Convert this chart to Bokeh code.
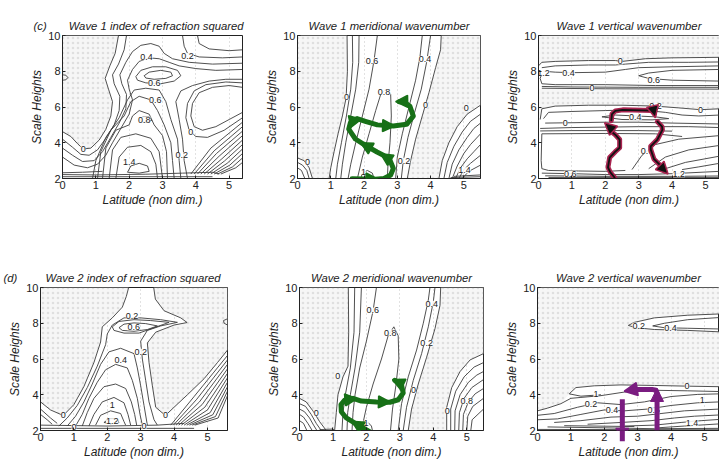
from bokeh.plotting import figure
from bokeh.layouts import row, column
from bokeh.models import Arrow, NormalHead, Range1d
from bokeh.core.properties import value
from bokeh.embed import file_html
from bokeh.resources import INLINE

FONT = "Liberation Sans"
INK = "#3c3c3c"
NB = "\u00a0"

x_ticks = [0, 1, 2, 3, 4, 5]
y_ticks = [2, 4, 6, 8, 10]

titles = ["Wave 1 index of refraction squared", "Wave 1 meridional wavenumber",
          "Wave 1 vertical wavenumber", "Wave 2 index of refraction squared",
          "Wave 2 meridional wavenumber", "Wave 2 vertical wavenumber"]
panel_tags = ["(c)", "(d)"]

# ---------------- contour lines (latitude, scale height) ----------------
p1_lines = [
    [(0,4.62),(0.25,4.35),(0.45,3.95),(0.62,3.65),(0.85,3.7),(1.1,4.15),(1.3,4.75),(1.45,5.5),(1.5,6.3),(1.38,7.0),(1.28,7.6),(1.42,8.3),(1.58,9.0),(1.68,10)],
    [(0,4.2),(0.3,3.75),(0.55,3.35),(0.8,3.3),(1.05,3.6),(1.3,4.25),(1.55,5.0),(1.7,5.8),(1.72,6.6),(1.55,7.3),(1.5,7.8),(1.68,8.4),(1.85,9.2),(1.92,10)],
    [(0,3.7),(0.3,3.3),(0.6,2.95),(0.95,3.0),(1.2,3.5),(1.45,4.3),(1.7,5.1),(1.9,5.9),(1.92,6.7),(1.78,7.3),(1.72,7.8),(1.9,8.5),(2.1,9.1),(2.35,9.45),(2.65,9.55),(2.9,9.4),(3.05,9.0),(3.3,8.7),(3.8,8.5),(4.5,8.4),(5.4,8.45)],
    [(0,3.2),(0.35,2.75),(0.75,2.6),(1.05,2.8),(1.3,3.3),(1.5,4.0),(1.75,4.8),(2.0,5.6),(2.1,6.4),(2.0,7.0),(1.95,7.5),(2.1,8.1),(2.3,8.55),(2.6,8.75),(2.9,8.7),(3.2,8.5),(3.5,8.3),(4.0,8.15),(4.6,8.05),(5.4,8.1)],
    [(2.2,7.7),(2.35,8.05),(2.7,8.25),(3.1,8.25),(3.45,8.05),(3.55,7.75),(3.35,7.45),(2.95,7.3),(2.5,7.35),(2.25,7.5),(2.2,7.7)],
    [(2.45,7.75),(2.6,7.95),(2.95,8.05),(3.25,7.95),(3.3,7.75),(3.1,7.6),(2.75,7.55),(2.5,7.62),(2.45,7.75)],
    [(1.95,2.35),(2.05,2.7),(2.3,2.85),(2.55,2.7),(2.6,2.4),(2.3,2.3),(1.95,2.35)],
    [(1.6,2.0),(1.7,3.2),(1.95,3.75),(2.35,3.85),(2.65,3.5),(2.8,2.8),(2.85,2.0)],
    [(1.4,2.0),(1.5,3.6),(1.75,4.3),(2.2,4.5),(2.65,4.25),(2.9,3.5),(3.0,2.0)],
    [(1.2,2.0),(1.3,3.7),(1.6,4.7),(2.0,5.0),(2.1,5.5),(2.3,5.8),(2.6,5.6),(2.75,5.0),(3.0,4.4),(3.12,3.5),(3.15,2.0)],
    [(2.3,5.25),(2.4,5.45),(2.6,5.45),(2.68,5.25),(2.45,5.15),(2.3,5.25)],
    [(1.05,2.0),(1.15,3.5),(1.45,4.7),(1.85,5.5),(2.05,6.3),(2.3,6.6),(2.65,6.4),(2.85,5.8),(3.05,5.0),(3.25,4.0),(3.3,3.0),(3.35,2.0)],
    [(0.9,2.0),(1.0,3.0),(1.3,4.3),(1.7,5.4),(1.95,6.4),(2.15,6.95),(2.5,7.05),(2.9,6.95),(3.1,6.3),(3.25,5.3),(3.45,4.2),(3.5,3.0),(3.55,2.0)],
    [(3.75,2.0),(3.65,3.0),(3.6,4.2),(3.5,5.3),(3.4,6.3),(3.55,6.9),(3.9,7.2),(4.4,7.45),(4.9,7.55),(5.4,7.55)],
    [(5.4,7.1),(5.0,7.2),(4.5,7.1),(4.1,6.8),(3.9,6.2),(3.85,5.5),(3.95,4.9),(4.2,4.7),(4.6,4.9),(5.0,5.3),(5.4,5.7)],
    [(5.4,7.35),(4.9,7.4),(4.3,7.25),(3.95,6.9),(3.75,6.2),(3.7,5.4),(3.8,4.7),(4.0,4.35),(4.35,4.3),(4.85,4.7),(5.4,5.4)],
    [(3.6,10),(3.65,9.4),(3.75,9.0),(4.1,8.8),(4.8,8.75),(5.4,8.8)],
    [(4.05,10),(4.1,9.55),(4.4,9.25),(5.0,9.15),(5.4,9.2)],
    [(3.85,2.25),(4.45,3.7),(5.4,5.15)],
    [(3.95,2.25),(4.55,3.55),(5.4,4.9)],
    [(4.05,2.25),(4.62,3.4),(5.4,4.65)],
    [(4.15,2.25),(4.7,3.25),(5.4,4.4)],
    [(4.25,2.25),(4.78,3.1),(5.4,4.15)],
    [(4.35,2.25),(4.86,2.98),(5.4,3.9)],
    [(4.45,2.25),(4.94,2.85),(5.4,3.65)],
    [(4.55,2.25),(5.02,2.75),(5.4,3.4)],
    [(4.65,2.25),(5.1,2.65),(5.4,3.15)],
    [(4.75,2.25),(5.2,2.6),(5.4,2.9)],
    [(0,2.1),(4.5,2.1)],
    [(0,2.22),(1.0,2.2),(2.5,2.24),(3.6,2.3),(4.5,2.35),(4.7,2.25)],
    [(0,2.32),(0.6,2.35),(1.2,2.4)],
    [(0,7.5),(0.1,7.52),(0.16,7.65),(0.1,7.78),(0,7.8)],
]
p1_labels = [("0.4",2.52,8.78),("0.2",3.75,8.85),("0.6",2.75,7.32),("0.6",2.78,6.4),("0.8",2.45,5.3),
             ("0",0.62,3.65),("1.4",2.0,2.94),("0.2",3.58,3.3),("0",3.85,4.6)]

p2_lines = [
    [(1.49,10),(1.5,8),(1.46,6.5),(1.35,5.5),(1.22,4.5),(1.1,3.5),(1.0,2.6),(0.95,2.0)],
    [(1.65,10),(1.66,8.5),(1.6,7),(1.47,5.5),(1.32,4.0),(1.2,2.8),(1.15,2.0)],
    [(1.85,10),(1.84,8.5),(1.75,7),(1.6,5.5),(1.45,4.0),(1.35,2.8),(1.3,2.0)],
    [(2.4,10),(2.3,8.6),(2.15,7.0),(1.95,5.5),(1.75,4.0),(1.6,2.8),(1.52,2.0)],
    [(1.8,2.0),(1.95,3.2),(2.15,4.5),(2.35,5.8),(2.5,6.7),(2.65,7.0),(2.8,6.7),(2.82,5.5),(2.78,4.0),(2.72,2.8),(2.7,2.0)],
    [(1.9,2.0),(1.95,2.3),(2.1,2.45),(2.25,2.3),(2.3,2.0)],
    [(2.95,2.0),(3.0,3.2),(3.15,4.5),(3.35,6.0),(3.55,7.5),(3.68,8.8),(3.75,10)],
    [(3.12,2.0),(3.18,3.0),(3.32,4.3),(3.52,5.7),(3.72,7.0),(3.88,8.5),(4.0,10)],
    [(3.3,2.0),(3.4,3.0),(3.55,4.2),(3.75,5.5),(3.95,6.8),(4.15,8.2),(4.3,9.2),(4.32,10)],
    [(4.25,2.0),(4.35,3.0),(4.55,4.0),(4.8,4.9),(5.1,5.6),(5.5,6.1)],
    [(4.4,2.0),(4.5,2.9),(4.7,3.8),(4.95,4.6),(5.2,5.2),(5.5,5.6)],
    [(4.55,2.0),(4.65,2.8),(4.85,3.6),(5.1,4.3),(5.3,4.8),(5.5,5.1)],
    [(4.65,2.0),(4.8,2.7),(5.0,3.4),(5.2,3.9),(5.5,4.5)],
    [(4.75,2.0),(4.9,2.6),(5.1,3.1),(5.3,3.5),(5.5,3.9)],
    [(4.85,2.0),(5.0,2.5),(5.2,2.85),(5.5,3.3)],
    [(4.95,2.0),(5.15,2.4),(5.5,2.75)],
    [(4.6,2.05),(5.5,2.1)],
    [(4.7,2.12),(5.5,2.2)],
    [(0,3.15),(0.2,3.0),(0.35,2.6),(0.45,2.0)],
    [(0,2.9),(0.15,2.75),(0.28,2.45),(0.35,2.0)],
    [(0,2.6),(0.12,2.45),(0.22,2.0)],
]
p2_labels = [("0.6",2.24,8.6),("0.4",3.83,8.68),("0.8",2.6,6.85),("0",1.47,6.58),("0",3.85,6.12),
             ("0.2",3.2,3.0),("1",1.98,2.37),("0",5.07,5.94),("1.4",5.02,2.46),("0",0.3,2.9)]

p3_lines = [
    [(0,8.3),(0.1,8.5),(0.5,8.55),(1.5,8.6),(2.3,8.6),(2.5,8.55),(3.2,8.7),(4.0,8.75),(5.42,8.78)],
    [(0.1,8.2),(0.5,8.3),(1.5,8.35),(2.3,8.35),(2.6,8.4),(3.3,8.5),(4.5,8.5),(5.42,8.52)],
    [(0.15,8.0),(0.5,7.95),(1.0,7.92),(2.0,7.95),(2.6,8.1),(3.0,8.2),(4.0,8.25),(5.42,8.3)],
    [(5.42,8.1),(4.0,8.05),(3.3,7.9),(3.0,7.75),(3.3,7.6),(4.0,7.5),(5.42,7.45)],
    [(0.1,7.85),(0.05,7.6),(0.1,7.3),(0.5,7.25),(2,7.25),(3.5,7.2),(5.42,7.2)],
    [(0.1,7.15),(1,7.12),(3,7.1),(5.42,7.1)],
    [(0.1,7.05),(2,7.02),(5.42,7.0)],
    [(0.05,5.3),(0.1,5.9),(0.5,6.05),(1.5,6.1),(2.5,6.1),(3.5,6.05),(4.2,5.95),(4.85,5.85),(5.42,5.9)],
    [(0.15,5.35),(0.3,5.7),(1.0,5.75),(2.0,5.8),(3.0,5.85),(3.8,5.7),(4.3,5.55),(4.8,5.5),(5.42,5.55)],
    [(1.9,5.45),(2.3,5.55),(2.9,5.5),(3.5,5.45),(3.9,5.35),(3.4,5.28),(2.5,5.3),(1.9,5.45)],
    [(0.2,5.1),(1.0,5.12),(2.0,5.15),(3.0,5.15),(4.0,5.1),(5.42,5.05)],
    [(0.05,4.8),(1,4.85),(3,4.9),(4.5,4.9),(5.42,4.85)],
    [(4.3,4.35),(3.5,4.5),(2,4.52),(0.1,4.5),(0.08,3.0),(0.1,2.55),(0.3,2.45),(1.2,2.42),(2.0,2.4),(2.6,2.45)],
    [(4.0,4.65),(3,4.68),(1,4.68),(0.05,4.66)],
    [(2.8,2.5),(3.1,3.3),(3.5,3.9),(4.2,4.2),(5.42,4.4)],
    [(3.3,2.55),(3.8,3.2),(4.5,3.6),(5.42,3.85)],
    [(3.8,2.55),(4.4,2.9),(5.42,3.25)],
    [(4.3,2.5),(4.8,2.65),(5.42,2.85)],
    [(0.1,2.3),(1,2.27),(2,2.22),(3,2.22),(4,2.27),(5.42,2.4)],
    [(0.2,2.15),(2,2.12),(4,2.12),(5.42,2.14)],
    [(0.3,2.06),(5.42,2.06)],
]
p3_labels = [("0",2.45,8.55),("1.2",0.15,7.9),("0.4",0.9,7.93),("0.6",3.45,7.5),("0",1.6,7.05),
             ("0.2",3.5,6.05),("0",4.85,5.85),("0.4",2.9,5.42),("0",0.8,5.12),("0.6",3.25,3.55),
             ("0.6",0.95,2.27),("1.2",4.2,2.24)]

p4_lines = [
    [(0,3.6),(0.3,3.15),(0.68,2.84),(1.0,3.45),(1.3,4.46),(1.6,5.8),(1.8,6.95),(1.85,7.8),(2.15,8.3),(2.45,8.9),(2.57,9.5),(2.64,10)],
    [(3.39,10),(3.44,9.35),(3.7,8.7),(4.2,8.3),(4.39,8.04),(4.0,7.9),(3.45,7.5),(3.2,6.9),(3.25,5.8),(3.35,4.5),(3.45,3.3),(3.74,2.84),(4.0,3.3),(4.4,4.0),(4.9,4.9),(5.3,5.8),(5.6,6.5)],
    [(0.55,2.25),(0.8,2.7),(1.1,3.4),(1.4,4.4),(1.7,5.6),(1.95,6.8),(2.0,7.4),(2.15,7.9),(2.5,8.3),(3.0,8.3),(3.6,8.2),(4.1,8.05),(3.6,7.85),(3.2,7.6),(3.0,7.0),(3.05,6.0),(3.15,4.8),(3.25,3.6),(3.4,2.6),(3.5,2.3)],
    [(2.15,7.8),(2.35,8.1),(2.8,8.2),(3.3,8.15),(3.85,8.05),(3.4,7.75),(2.95,7.45),(2.5,7.45),(2.2,7.6),(2.15,7.8)],
    [(2.35,7.75),(2.5,7.95),(2.8,8.02),(3.15,7.98),(3.5,7.85),(3.2,7.65),(2.8,7.55),(2.45,7.6),(2.35,7.75)],
    [(0.8,2.25),(1.05,2.8),(1.3,3.6),(1.55,4.6),(1.8,5.7),(2.05,6.4),(2.4,6.6),(2.8,6.3),(2.9,5.5),(3.0,4.5),(3.1,3.4),(3.2,2.3)],
    [(1.05,2.25),(1.25,2.9),(1.45,3.8),(1.7,4.7),(1.95,5.4),(2.25,5.7),(2.6,5.5),(2.75,4.8),(2.9,3.8),(2.98,2.9),(3.05,2.3)],
    [(1.25,2.25),(1.4,3.0),(1.6,3.8),(1.9,4.45),(2.25,4.6),(2.55,4.35),(2.72,3.6),(2.82,2.9),(2.88,2.3)],
    [(1.45,2.25),(1.6,2.9),(1.85,3.6),(2.2,3.85),(2.5,3.55),(2.62,2.9),(2.7,2.3)],
    [(1.65,2.3),(1.8,2.85),(2.1,3.1),(2.4,2.95),(2.5,2.5),(2.55,2.3)],
    [(1.9,2.45),(2.05,2.65),(2.3,2.65),(2.35,2.45),(2.1,2.38),(1.9,2.45)],
    [(0,3.2),(0.3,2.7),(0.5,2.4)],
    [(0,2.9),(0.2,2.6),(0.35,2.35)],
    [(0,2.12),(4.6,2.12)],
    [(0,2.3),(2,2.25),(3.5,2.3),(4.3,2.4)],
    [(3.9,2.3),(4.6,3.9),(5.6,6.2)],
    [(3.98,2.3),(4.68,3.75),(5.6,5.95)],
    [(4.06,2.3),(4.76,3.6),(5.6,5.7)],
    [(4.14,2.3),(4.84,3.45),(5.6,5.45)],
    [(4.22,2.3),(4.92,3.3),(5.6,5.2)],
    [(4.3,2.3),(5.0,3.15),(5.6,4.95)],
    [(4.38,2.3),(5.08,3.0),(5.6,4.7)],
    [(4.46,2.3),(5.16,2.88),(5.6,4.45)],
    [(4.54,2.3),(5.24,2.78),(5.6,4.2)],
    [(4.62,2.3),(5.32,2.7),(5.6,3.95)],
    [(5.6,7.9),(5.5,8.0),(5.48,8.15),(5.6,8.25)],
]
p4_labels = [("0.2",2.74,8.42),("0.6",2.79,7.78),("0.2",3.0,6.4),("0.4",2.4,5.95),("1",2.15,3.4),
             ("1.2",2.15,2.52),("0",0.68,2.84),("0",3.74,2.84),("0",1.0,2.2),("0",3.1,2.25)]

p5_lines = [
    [(1.46,10),(1.47,7.5),(1.45,5.6),(1.3,5.0),(1.15,4.0),(1.1,3.0),(1.05,2.0)],
    [(1.65,10),(1.63,7.5),(1.52,5.5),(1.37,4.0),(1.3,3.0),(1.27,2.0)],
    [(1.85,10),(1.8,7.5),(1.66,5.5),(1.52,4.0),(1.44,3.0),(1.42,2.0)],
    [(2.3,10),(2.2,8.7),(2.0,7.0),(1.8,5.5),(1.66,4.0),(1.6,3.0),(1.57,2.0)],
    [(1.85,2.0),(2.0,3.3),(2.2,4.6),(2.45,6.0),(2.65,7.3),(2.82,7.8),(2.95,7.3),(2.97,6.0),(2.88,4.5),(2.78,3.2),(2.72,2.0)],
    [(1.9,2.0),(1.95,2.3),(2.05,2.45),(2.15,2.25),(2.18,2.0)],
    [(2.95,2.0),(3.05,3.5),(3.25,5.0),(3.5,6.5),(3.7,8.0),(3.85,9.3),(3.9,10)],
    [(3.1,2.0),(3.2,3.3),(3.4,4.8),(3.65,6.3),(3.85,7.8),(4.0,9.2),(4.05,10)],
    [(3.25,2.0),(3.35,3.2),(3.55,4.6),(3.8,6.1),(4.05,7.7),(4.2,9.0),(4.22,10)],
    [(4.4,2.0),(4.4,3.3),(4.55,4.4),(4.8,5.3),(5.1,5.95),(5.5,6.3)],
    [(4.52,2.0),(4.52,3.2),(4.67,4.2),(4.92,5.0),(5.22,5.55),(5.5,5.8)],
    [(4.64,2.0),(4.65,3.1),(4.8,4.0),(5.05,4.7),(5.3,5.1),(5.5,5.3)],
    [(4.76,2.0),(4.78,3.0),(4.92,3.8),(5.15,4.4),(5.5,4.85)],
    [(4.88,2.0),(4.9,2.9),(5.05,3.6),(5.25,4.05),(5.5,4.35)],
    [(5.0,2.0),(5.03,2.8),(5.18,3.35),(5.5,3.8)],
    [(5.12,2.0),(5.16,2.6),(5.5,3.2)],
    [(0,3.8),(0.2,3.6),(0.4,3.1),(0.6,2.5),(0.8,2.0)],
    [(0,3.5),(0.18,3.35),(0.35,2.9),(0.5,2.4),(0.65,2.0)],
    [(0,3.2),(0.15,3.05),(0.3,2.7),(0.42,2.3),(0.52,2.0)],
    [(0,2.9),(0.12,2.75),(0.25,2.4),(0.38,2.0)],
    [(0,2.55),(0.12,2.4),(0.22,2.0)],
    [(0.6,2.05),(1.0,2.08),(1.05,2.0)],
]
p5_labels = [("0.6",2.19,8.72),("0.8",2.71,7.48),("0.4",3.95,9.09),("0.2",3.8,6.9),("0",1.14,5.07),
             ("0",3.41,4.25),("1",1.99,2.42),("0",0.5,2.97),("0",4.42,3.1),("0.8",5.0,3.64)]

p6_lines = [
    [(5.45,8.52),(4.5,8.45),(3.5,8.3),(2.9,8.05),(2.72,7.88),(2.95,7.75),(3.5,7.65),(4.5,7.6),(5.45,7.52)],
    [(5.45,8.32),(4.5,8.2),(3.8,8.0),(3.45,7.85),(3.8,7.75),(4.5,7.72),(5.45,7.68)],
    [(5.45,4.45),(4.5,4.48),(3.5,4.52),(2.5,4.55),(1.7,4.5),(1.15,4.4),(0.95,4.05),(1.3,3.92),(1.9,4.0)],
    [(0,3.1),(0.3,3.25),(0.7,3.5),(1.0,3.8),(1.3,3.85),(1.9,3.95),(2.6,4.15),(3.5,4.25),(4.5,4.22),(5.45,4.18)],
    [(0,2.85),(0.5,2.95),(1.2,3.3),(1.8,3.55),(2.5,3.45),(3.2,3.6),(4.0,3.9),(4.8,4.02),(5.45,4.05)],
    [(0,2.6),(0.6,2.65),(1.3,2.9),(2.0,3.15),(2.6,3.1),(3.3,3.2),(4.0,3.4),(4.8,3.55),(5.45,3.6)],
    [(0.5,2.45),(1.3,2.55),(2.2,2.75),(3.0,2.8),(3.7,2.95),(4.4,3.1),(5.45,3.2)],
    [(1.5,2.35),(2.5,2.45),(3.4,2.55),(4.1,2.7),(4.7,2.8),(5.45,2.87)],
    [(2.6,2.25),(3.5,2.3),(4.3,2.45),(4.9,2.55),(5.45,2.62)],
    [(3.6,2.15),(4.4,2.25),(5.45,2.37)],
    [(0.3,2.2),(2,2.15),(3.5,2.1),(5.45,2.12)],
    [(0,2.06),(5.45,2.04)],
    [(0.8,2.27),(2.9,2.22)],
]
p6_labels = [("0.2",3.03,7.86),("0.4",3.98,7.72),("0",4.48,4.48),("1",1.75,4.05),("0.2",1.6,3.5),
             ("0.4",2.23,3.15),("0.6",3.48,3.12),("1",4.93,3.7),("1.4",4.63,2.4)]

# evanescent (stippled) regions
p1_shade = [[(0,10),(1.68,10),(1.58,9.0),(1.42,8.3),(1.28,7.6),(1.38,7.0),(1.5,6.3),(1.45,5.5),(1.3,4.75),(1.1,4.15),(0.85,3.7),(0.62,3.65),(0.45,3.95),(0.25,4.35),(0,4.62)]]
p2_shade = [[(0,10),(1.49,10),(1.5,8),(1.46,6.5),(1.35,5.5),(1.22,4.5),(1.1,3.5),(1.0,2.6),(0.95,2.0),(0.45,2.0),(0.35,2.6),(0.2,3.0),(0,3.15)],
            [(4.32,10),(4.3,9.2),(4.15,8.2),(3.95,6.8),(3.75,5.5),(3.55,4.2),(3.4,3.0),(3.3,2.0),(4.25,2.0),(4.35,3.0),(4.55,4.0),(4.8,4.9),(5.1,5.6),(5.5,6.1),(5.5,10)]]
p3_shade = [[(0,10),(5.42,10),(5.42,8.78),(4.0,8.75),(3.2,8.7),(2.5,8.55),(0.5,8.55),(0.1,8.5),(0,8.3)],
            [(0,7.0),(5.42,7.0),(5.42,5.9),(4.2,5.95),(2.5,6.1),(0.5,6.05),(0.1,5.9),(0,5.3)]]
p4_shade = [[(0,10),(2.64,10),(2.57,9.5),(2.45,8.9),(2.15,8.3),(1.85,7.8),(1.8,6.95),(1.6,5.8),(1.3,4.46),(1.0,3.45),(0.68,2.84),(0.3,3.15),(0,3.6)],
            [(3.39,10),(3.44,9.35),(3.7,8.7),(4.2,8.3),(4.39,8.04),(4.0,7.9),(3.45,7.5),(3.2,6.9),(3.25,5.8),(3.35,4.5),(3.45,3.3),(3.74,2.84),(4.0,3.3),(4.4,4.0),(4.9,4.9),(5.3,5.8),(5.6,6.5),(5.6,10)]]
p5_shade = [[(0,10),(1.46,10),(1.47,7.5),(1.45,5.6),(1.3,5.0),(1.15,4.0),(1.1,3.0),(1.05,2.0),(0.8,2.0),(0.6,2.5),(0.4,3.1),(0.2,3.6),(0,3.8)],
            [(4.22,10),(4.2,9.0),(4.05,7.7),(3.8,6.1),(3.55,4.6),(3.35,3.2),(3.25,2.0),(4.4,2.0),(4.4,3.3),(4.55,4.4),(4.8,5.3),(5.1,5.95),(5.5,6.3),(5.5,10)]]
p6_shade = [[(0,10),(5.45,10),(5.45,8.52),(4.5,8.45),(3.5,8.3),(2.9,8.05),(2.72,7.88),(2.95,7.75),(3.5,7.65),(4.5,7.6),(5.45,7.52),(5.45,4.45),(4.5,4.48),(3.5,4.52),(2.5,4.55),(1.7,4.5),(1.15,4.4),(0.95,4.05),(0.7,3.5),(0.3,3.25),(0,3.1)]]

# hand-drawn ray paths
green_w1_path = [(1.64,1.98),(2.34,1.96),(2.6,2.0),(2.8,2.2),(2.88,2.56),(2.78,3.02),(2.58,3.3),(2.39,3.48),(2.04,3.85),(1.74,4.21),(1.54,4.76),(1.59,5.12),(1.79,5.35),(2.04,5.2),(2.4,5.0),(2.88,4.94),(3.28,5.03),(3.48,5.49),(3.38,6.04),(3.18,6.31),(3.05,6.3)]
green_w1_heads = [(2.1,1.97,2.42,1.96),(2.72,3.12,2.5,3.38),(2.15,3.74,1.9,4.0),(1.6,5.2,1.92,5.32),(2.6,4.96,2.92,4.94),(3.2,6.31,2.95,6.3)]
maroon_left = [(2.28,2.05),(2.15,2.35),(2.08,2.62),(2.13,3.17),(2.3,3.5),(2.43,3.72),(2.43,4.18),(2.3,4.45),(2.18,4.63),(2.1,4.9)]
maroon_top = [(2.18,5.25),(2.2,5.6),(2.3,5.78),(2.52,5.84),(3.41,5.8),(3.47,5.62)]
maroon_right = [(3.56,5.18),(3.7,4.9),(3.71,4.72),(3.56,4.18),(3.36,3.8),(3.36,3.63),(3.46,3.08),(3.71,2.62),(3.78,2.42)]
maroon_heads = [(2.14,4.85,1.98,5.12),(3.46,5.7,3.5,5.4),(3.74,2.52,3.88,2.25)]
green_w2_path = [(2.16,1.87),(1.9,2.15),(1.62,2.45),(1.4,2.7),(1.25,3.05),(1.24,3.45),(1.35,3.7),(1.6,3.8),(1.85,3.65),(2.3,3.6),(2.7,3.58),(2.95,3.72),(3.1,4.1),(3.05,4.55),(2.85,4.8)]
green_w2_heads = [(1.85,2.2,1.56,2.52),(1.38,3.72,1.72,3.78),(2.35,3.6,2.72,3.58),(3.0,4.66,2.78,4.85)]
purple_arrows = [(3.58,2.0,3.58,4.35),(2.54,3.75,2.54,1.4)]
purple_top = [(3.58,4.1),(3.55,4.25),(3.43,4.3),(2.9,4.3),(2.78,4.26)]
purple_heads = [(2.9,4.29,2.6,4.2)]

GREEN = "#177017"
MAROON = "#a8234f"
PURPLE = "#7a1c80"


def make_fig(title, width, height, x_end, bl, br, bt, bb, tag=None, tag_offset=0, tag_gap=0):
    text = title if tag is None else tag + NB * tag_gap + title
    p = figure(width=width, height=height, x_range=Range1d(0, x_end), y_range=Range1d(2, 10),
               output_backend="svg", toolbar_location=None, title=text,
               min_border_left=bl, min_border_right=br, min_border_top=bt, min_border_bottom=bb)
    p.title.text_font = FONT
    p.title.text_font_style = "italic"
    p.title.text_font_size = "11.3px"
    p.title.text_color = "#222222"
    if tag is None:
        p.title.align = "center"
    else:
        p.title.align = "left"
        p.title.offset = tag_offset
    p.title.standoff = 8
    p.xaxis.ticker = x_ticks
    p.yaxis.ticker = y_ticks
    p.xaxis.axis_label = "Latitude (non dim.)"
    p.yaxis.axis_label = "Scale Heights"
    for ax in (p.xaxis[0], p.yaxis[0]):
        ax.axis_label_text_font = FONT
        ax.axis_label_text_font_style = "italic"
        ax.axis_label_text_font_size = "12px"
        ax.axis_label_text_color = "#222222"
        ax.axis_label_standoff = 1
        ax.major_label_text_font = FONT
        ax.major_label_text_font_size = "11px"
        ax.major_label_text_color = "#222222"
        ax.major_label_standoff = 2
        ax.major_tick_in = 3
        ax.major_tick_out = 0
        ax.minor_tick_in = 0
        ax.minor_tick_out = 0
        ax.axis_line_color = "#222222"
        ax.major_tick_line_color = "#222222"
    p.xgrid.grid_line_color = "#c4c4c4"
    p.xgrid.grid_line_dash = "1 3"
    p.ygrid.grid_line_color = None
    p.outline_line_color = "#222222"
    return p


def draw(p, shades, lines, labels):
    for poly in shades:
        p.patch([q[0] for q in poly], [q[1] for q in poly], fill_color="#f6f6f6", line_alpha=0,
                hatch_pattern="dot", hatch_color="#9a9a9a", hatch_alpha=0.25, hatch_scale=5)
    p.multi_line([[q[0] for q in ln] for ln in lines], [[q[1] for q in ln] for ln in lines],
                 line_color=INK, line_width=0.9)
    p.text([l[1] for l in labels], [l[2] for l in labels], text=[l[0] for l in labels],
           text_font=value(FONT), text_font_size="9px", text_color="#222222",
           text_align="center", text_baseline="middle",
           background_fill_color="white", background_fill_alpha=0.9)


def heads(p, lst, color, line_color=None, size=12):
    for (xs, ys, xe, ye) in lst:
        p.add_layout(Arrow(end=NormalHead(size=size, fill_color=color, line_color=line_color or color, line_width=1.5),
                           x_start=xs, y_start=ys, x_end=xe, y_end=ye, line_alpha=0))


def path(p, pts, color, width):
    p.line([q[0] for q in pts], [q[1] for q in pts], line_color=color, line_width=width,
           line_cap="round", line_join="round")


# page has no margin: top row y 0..245 (frames 35..178), bottom row 245..461 (frames 287..431)
f1 = make_fig(titles[0], 260, 245, 5.4, 62, 18, 35, 67, tag=panel_tags[0], tag_offset=-29, tag_gap=7)
f2 = make_fig(titles[1], 240, 245, 5.5, 37, 20, 35, 67)
f3 = make_fig(titles[2], 219, 245, 5.42, 38, 0, 35, 67)
f4 = make_fig(titles[3], 260, 216, 5.6, 40, 33, 42, 30, tag=panel_tags[1], tag_offset=-37, tag_gap=9)
f5 = make_fig(titles[4], 240, 216, 5.5, 39, 17, 42, 30)
f6 = make_fig(titles[5], 219, 216, 5.45, 37, 0, 42, 30)

draw(f1, p1_shade, p1_lines, p1_labels)
draw(f2, p2_shade, p2_lines, p2_labels)
draw(f3, p3_shade, p3_lines, p3_labels)
draw(f4, p4_shade, p4_lines, p4_labels)
draw(f5, p5_shade, p5_lines, p5_labels)
draw(f6, p6_shade, p6_lines, p6_labels)

path(f2, green_w1_path, GREEN, 5)
heads(f2, green_w1_heads, GREEN)

for seg in (maroon_left, maroon_top, maroon_right):
    path(f3, seg, MAROON, 5)
    path(f3, seg, "#111111", 1.8)
heads(f3, maroon_heads, "#111111", MAROON)

path(f5, green_w2_path, GREEN, 5)
heads(f5, green_w2_heads, GREEN)

path(f6, purple_top, PURPLE, 5)
for (xs, ys, xe, ye) in purple_arrows:
    f6.add_layout(Arrow(end=NormalHead(size=13, fill_color=PURPLE, line_color=PURPLE),
                        x_start=xs, y_start=ys, x_end=xe, y_end=ye, line_color=PURPLE, line_width=5))
heads(f6, purple_heads, PURPLE, size=13)

layout = column(row(f1, f2, f3), row(f4, f5, f6))
open("out.html", "w").write(file_html(layout, INLINE, "chart"))
